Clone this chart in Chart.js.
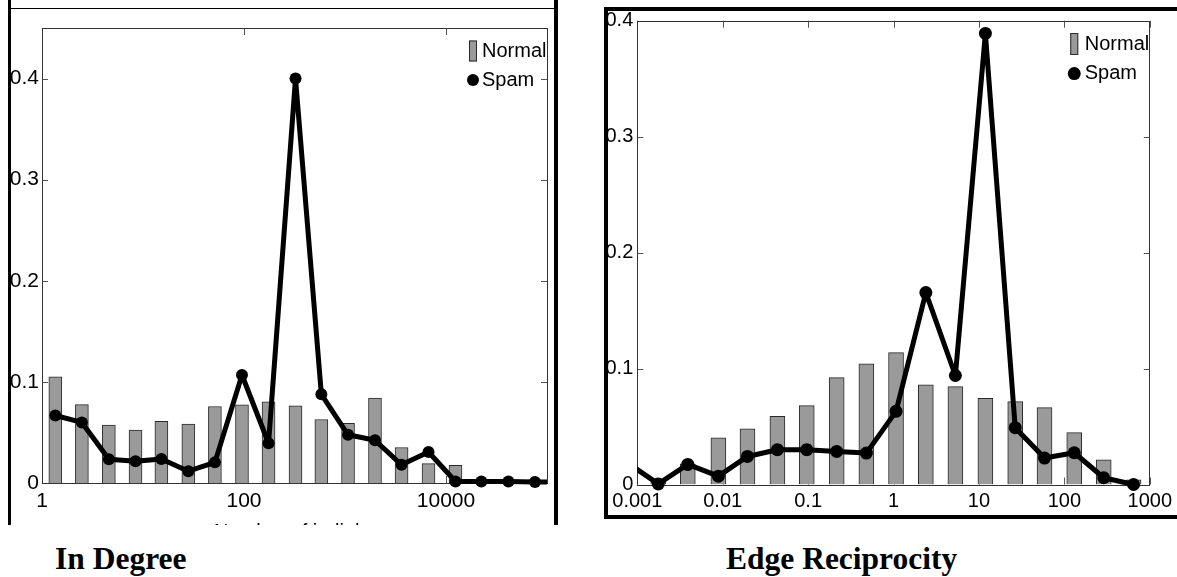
<!DOCTYPE html>
<html>
<head>
<meta charset="utf-8">
<script src="https://cdn.jsdelivr.net/npm/chart.js@4.4.0/dist/chart.umd.min.js"></script>
<style>
html,body{margin:0;padding:0;background:#fff;width:1177px;height:577px;overflow:hidden;}
#wrap{position:relative;width:1177px;height:577px;background:#fff;}
#leftBox{position:absolute;left:0;top:0;width:560px;height:525px;overflow:hidden;}
#leftBox canvas{position:absolute;left:0;top:0;}
#rightBox{position:absolute;left:580px;top:0;width:597px;height:517px;}
.frame{position:absolute;background:#000;}
.caption{position:absolute;font-family:'Liberation Serif','Times New Roman',serif;font-weight:bold;font-size:31.5px;line-height:31.5px;color:#000;white-space:nowrap;}
</style>
</head>
<body>
<div id="wrap">
  <div id="leftBox"><canvas id="c1" width="560" height="544"></canvas></div>
  <div id="rightBox"><canvas id="c2" width="597" height="517"></canvas></div>
  <!-- left panel frame -->
  <div class="frame" style="left:8px;top:0;width:3px;height:525px;"></div>
  <div class="frame" style="left:554px;top:0;width:4px;height:525px;"></div>
  <div class="frame" style="left:8px;top:8px;width:548px;height:1px;"></div>
  <!-- right panel frame -->
  <div class="frame" style="left:604px;top:7px;width:573px;height:4px;"></div>
  <div class="frame" style="left:604px;top:7px;width:4px;height:512px;"></div>
  <div class="frame" style="left:604px;top:515px;width:573px;height:4px;"></div>
  <div class="caption" style="left:55px;top:543px;">In Degree</div>
  <div class="caption" style="left:726px;top:543px;">Edge Reciprocity</div>
</div>
<script>
// ---------- data: In Degree ----------
const inDegreeBins   = [1.355, 2.483, 4.592, 8.433, 15.21, 28.12, 51.52, 95.5, 175, 323.6, 583.4, 1071.5, 1981, 3631, 6714, 12417, 22387, 41495, 76033, 139600];
const inDegreeNormal = [0.105, 0.0775, 0.0572, 0.0523, 0.0609, 0.0583, 0.0757, 0.0774, 0.0803, 0.0764, 0.0628, 0.0590, 0.0840, 0.0351, 0.0191, 0.0174, 0.002, 0, 0, null];
const inDegreeSpam   = [0.0668, 0.0599, 0.0235, 0.0214, 0.0237, 0.0117, 0.0204, 0.1068, 0.0393, 0.400, 0.0877, 0.0477, 0.0423, 0.0180, 0.0307, 0.0015, 0.0015, 0.0015, 0.0010, 0.0010];
const inDegreeXTicks = [1, 100, 10000];
const inDegreeYTicks = [0, 0.1, 0.2, 0.3, 0.4];

// ---------- data: Edge Reciprocity ----------
const reciprocityBins   = [0.00079, 0.00176, 0.0039, 0.0089, 0.0195, 0.0437, 0.0964, 0.216, 0.481, 1.07, 2.39, 5.3, 11.9, 26.6, 58.6, 130.6, 289, 646];
const reciprocityNormal = [null, 0.002, 0.0179, 0.0403, 0.0481, 0.0588, 0.0680, 0.0922, 0.1040, 0.1138, 0.0859, 0.0844, 0.0744, 0.0715, 0.0663, 0.0447, 0.0213, 0.004];
const reciprocitySpam   = [0.018, 0.0005, 0.0173, 0.0072, 0.0242, 0.0300, 0.0300, 0.0285, 0.0271, 0.0631, 0.1655, 0.0940, 0.3890, 0.0490, 0.0228, 0.0274, 0.0058, 0.0];
const reciprocityXTicks = [0.001, 0.01, 0.1, 1, 10, 100, 1000];
const reciprocityYTicks = [0, 0.1, 0.2, 0.3, 0.4];

const seriesNames = ['Normal', 'Spam'];

const toPoints = (xs, ys) => xs.map((x, i) => ({x: x, y: ys[i]}));

// box + inward ticks (Matlab style)
const boxTicks = {
  id: 'boxTicks',
  beforeDatasetsDraw(chart, args, o) {
    const {ctx, chartArea: a} = chart;
    const xs = chart.scales.x, ys = chart.scales.y;
    ctx.save();
    ctx.strokeStyle = o.tickColor;
    ctx.lineWidth = 1;
    ctx.beginPath();
    xs.ticks.forEach(t => {
      const px = Math.round(xs.getPixelForValue(t.value)) + 0.5;
      ctx.moveTo(px, a.top); ctx.lineTo(px, a.top + o.len);
      ctx.moveTo(px, a.bottom); ctx.lineTo(px, a.bottom - o.len);
    });
    ys.ticks.forEach(t => {
      const py = Math.round(ys.getPixelForValue(t.value)) + 0.5;
      ctx.moveTo(a.left, py); ctx.lineTo(a.left + o.len - 1, py);
      ctx.moveTo(a.right, py); ctx.lineTo(a.right - o.len + 1, py);
    });
    ctx.stroke();
    ctx.strokeStyle = o.boxColor;
    ctx.strokeRect(Math.round(a.left) + 0.5, Math.round(a.top) + 0.5, Math.round(a.right - a.left), Math.round(a.bottom - a.top));
    ctx.restore();
  }
};

// legend in the top-right corner of the plot
const cornerLegend = {
  id: 'cornerLegend',
  afterDatasetsDraw(chart, args, o) {
    const {ctx, chartArea: a} = chart;
    const bar = chart.data.datasets.find(d => d.type === 'bar');
    const line = chart.data.datasets.find(d => d.type === 'line');
    ctx.save();
    ctx.fillStyle = bar.backgroundColor;
    ctx.strokeStyle = bar.borderColor;
    ctx.lineWidth = 1;
    ctx.fillRect(a.right + o.markX - 4, o.row1 - o.rectH / 2, 8, o.rectH);
    ctx.strokeRect(a.right + o.markX - 4 + 0.5, o.row1 - o.rectH / 2 + 0.5, 7, o.rectH - 1);
    ctx.fillStyle = line.pointBackgroundColor;
    ctx.beginPath();
    ctx.arc(a.right + o.markX, o.row2, o.dotR, 0, Math.PI * 2);
    ctx.fill();
    ctx.fillStyle = '#000';
    ctx.font = o.font;
    ctx.textAlign = 'left';
    ctx.textBaseline = 'middle';
    ctx.fillText(bar.label, a.right + o.textX, o.row1);
    ctx.fillText(line.label, a.right + o.textX, o.row2);
    ctx.restore();
  }
};

function makeChart(id, cfg) {
  const fontFam = cfg.family;
  return new Chart(document.getElementById(id), {
    type: 'bar',
    data: {
      datasets: [
        {
          type: 'line', label: seriesNames[1], order: 0,
          data: toPoints(cfg.bins, cfg.spam),
          borderColor: '#000', backgroundColor: '#000',
          pointBackgroundColor: '#000', pointBorderColor: '#000',
          borderWidth: 5, pointRadius: cfg.pointR, pointBorderWidth: 0,
          borderJoinStyle: 'round', borderCapStyle: 'round',
          tension: 0, clip: cfg.clip
        },
        {
          type: 'bar', label: seriesNames[0], order: 1,
          data: toPoints(cfg.bins, cfg.normal),
          backgroundColor: '#9a9a9a', borderColor: '#2a2a2a', borderWidth: 1,
          barThickness: cfg.barW
        }
      ]
    },
    options: {
      responsive: false, animation: false, devicePixelRatio: 1,
      layout: {padding: cfg.pad},
      plugins: {
        legend: {display: false}, tooltip: {enabled: false},
        boxTicks: {len: 7, tickColor: '#555', boxColor: '#333'},
        cornerLegend: cfg.legend
      },
      scales: {
        x: {
          type: 'logarithmic', min: cfg.xmin, max: cfg.xmax, offset: false,
          grid: {display: false, drawTicks: false, offset: false},
          border: {display: false},
          afterBuildTicks: s => { s.ticks = cfg.xTicks.map(v => ({value: v})); },
          afterFit: s => { s.height = cfg.xH; },
          ticks: {
            autoSkip: false, maxRotation: 0, minRotation: 0, padding: cfg.xPad, color: '#000',
            font: {family: fontFam, size: cfg.fs},
            callback: v => String(v)
          },
          title: cfg.xTitle
        },
        y: {
          type: 'linear', min: 0, max: cfg.ymax,
          grid: {display: false, drawTicks: false},
          border: {display: false},
          afterBuildTicks: s => { s.ticks = cfg.yTicks.map(v => ({value: v})); },
          afterFit: s => { s.width = cfg.yW; },
          ticks: {
            padding: cfg.yPad, color: '#000',
            font: {family: fontFam, size: cfg.fs},
            callback: v => (v === 0 ? '0' : Number(v).toFixed(1))
          }
        }
      }
    },
    plugins: [boxTicks, cornerLegend]
  });
}

const sansFam = "'Liberation Sans', Arial, sans-serif";

makeChart('c1', {
  bins: inDegreeBins, normal: inDegreeNormal, spam: inDegreeSpam,
  xTicks: inDegreeXTicks, yTicks: inDegreeYTicks,
  xmin: 1, xmax: 100000, ymax: 0.45,
  family: sansFam, fs: 21, pointR: 6, barW: 13,
  pad: {left: 0, top: 28, right: 13, bottom: 0},
  xH: 61, yW: 42, xPad: 6, yPad: 3,
  clip: {left: false, top: false, right: 0, bottom: false},
  xTitle: {display: true, text: 'Number of in-links', color: '#000', padding: {top: 0, bottom: 0},
           font: {family: sansFam, size: 20}},
  legend: {markX: -74, textX: -65, row1: 51, row2: 80, rectH: 21, dotR: 6, font: "20px " + sansFam}
});

makeChart('c2', {
  bins: reciprocityBins, normal: reciprocityNormal, spam: reciprocitySpam,
  xTicks: reciprocityXTicks, yTicks: reciprocityYTicks,
  xmin: 0.001, xmax: 1000, ymax: 0.4,
  family: sansFam, fs: 20, pointR: 6.5, barW: 15,
  pad: {left: 0, top: 20.7, right: 23.7, bottom: 0},
  xH: 32.5, yW: 57.3, xPad: 5, yPad: 4,
  clip: {left: 0, top: false, right: false, bottom: false},
  xTitle: {display: false},
  legend: {markX: -75.5, textX: -65, row1: 44, row2: 73.6, rectH: 22, dotR: 6.5, font: "20px " + sansFam}
});
</script>
</body>
</html>
